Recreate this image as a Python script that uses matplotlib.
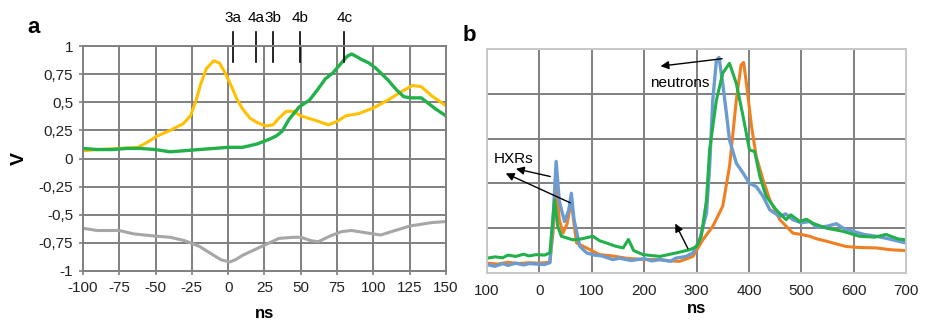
import numpy as np
import matplotlib.pyplot as plt

plt.rcParams['font.family'] = ['Liberation Sans', 'DejaVu Sans']
plt.rcParams['axes.unicode_minus'] = False

# ---- panel a data (ns, V) ----
a_orange_x = [-100, -90, -75, -62, -55, -49, -40, -31, -26, -22, -19, -15, -10, -6, -2, 2, 6, 10, 15, 20, 26, 31, 35, 40, 45, 50, 60, 69, 75, 81, 90, 100, 110, 120, 127, 133, 140, 150]
a_orange_y = [0.07, 0.08, 0.09, 0.10, 0.15, 0.20, 0.25, 0.31, 0.38, 0.52, 0.66, 0.80, 0.87, 0.85, 0.76, 0.65, 0.53, 0.44, 0.36, 0.32, 0.29, 0.30, 0.36, 0.42, 0.42, 0.38, 0.34, 0.30, 0.33, 0.38, 0.40, 0.45, 0.52, 0.60, 0.65, 0.64, 0.56, 0.47]

a_green_x = [-100, -90, -80, -70, -60, -50, -40, -30, -20, -10, 0, 10, 20, 28, 33, 37, 42, 49, 56, 62, 67, 72, 78, 82, 85, 88, 92, 97, 102, 110, 116, 121, 126, 133, 138, 143, 150]
a_green_y = [0.09, 0.08, 0.08, 0.09, 0.09, 0.08, 0.06, 0.07, 0.08, 0.09, 0.10, 0.10, 0.13, 0.17, 0.20, 0.24, 0.35, 0.46, 0.52, 0.62, 0.71, 0.76, 0.85, 0.91, 0.93, 0.91, 0.88, 0.85, 0.80, 0.70, 0.61, 0.55, 0.54, 0.54, 0.49, 0.44, 0.38]

a_gray_x = [-100, -90, -75, -65, -50, -40, -30, -20, -10, -5, 1, 5, 10, 20, 30, 35, 45, 50, 57, 62, 70, 78, 85, 95, 105, 115, 125, 140, 150]
a_gray_y = [-0.62, -0.64, -0.64, -0.67, -0.69, -0.70, -0.73, -0.78, -0.86, -0.90, -0.92, -0.90, -0.86, -0.80, -0.74, -0.71, -0.70, -0.70, -0.73, -0.74, -0.69, -0.65, -0.64, -0.66, -0.68, -0.64, -0.60, -0.57, -0.56]

a_xticks = [-100, -75, -50, -25, 0, 25, 50, 75, 100, 125, 150]
a_yticks = [-1, -0.75, -0.5, -0.25, 0, 0.25, 0.5, 0.75, 1]
a_yticklabels = ['-1', '-0,75', '-0,5', '-0,25', '0', '0,25', '0,5', '0,75', '1']

marker_pos = [3.5, 19, 31, 49.5, 80]
marker_lbl = ['3a', '4a', '3b', '4b', '4c']

# ---- panel b data (ns, arb.) ----
b_blue_x = [-100, -85, -70, -60, -45, -30, -20, -5, 10, 20, 26, 32, 38, 48, 56, 61, 66, 77, 90, 105, 120, 140, 153, 175, 200, 215, 230, 250, 260, 280, 293, 306, 319, 325, 331, 338, 343, 350, 357, 363, 376, 389, 401, 414, 427, 440, 459, 470, 484, 500, 516, 530, 548, 567, 580, 599, 620, 643, 660, 675, 700]
b_blue_y = [0.19, 0.15, 0.21, 0.17, 0.22, 0.18, 0.21, 0.20, 0.19, 0.23, 1.2, 2.49, 1.6, 1.15, 1.4, 1.78, 1.2, 0.60, 0.45, 0.40, 0.38, 0.30, 0.33, 0.28, 0.32, 0.27, 0.30, 0.26, 0.33, 0.37, 0.45, 0.74, 1.34, 2.38, 3.86, 4.75, 4.81, 4.23, 3.57, 2.97, 2.45, 2.23, 2.00, 1.93, 1.71, 1.41, 1.26, 1.32, 1.19, 1.12, 1.15, 1.02, 1.04, 1.10, 1.00, 0.93, 0.86, 0.82, 0.78, 0.74, 0.67]

b_orange_x = [-100, -80, -60, -40, -20, 0, 20, 26, 32, 38, 45, 53, 61, 66, 71, 90, 115, 140, 166, 200, 230, 250, 268, 293, 312, 331, 350, 363, 376, 385, 390, 396, 405, 414, 427, 440, 459, 484, 500, 516, 530, 548, 570, 586, 610, 643, 670, 700]
b_orange_y = [0.22, 0.20, 0.24, 0.21, 0.23, 0.22, 0.24, 0.9, 1.97, 1.2, 0.89, 1.1, 1.63, 1.1, 0.67, 0.56, 0.41, 0.38, 0.33, 0.30, 0.30, 0.27, 0.26, 0.37, 0.74, 1.04, 1.49, 2.38, 3.86, 4.64, 4.70, 4.16, 3.27, 2.60, 2.08, 1.63, 1.19, 0.89, 0.86, 0.82, 0.76, 0.71, 0.64, 0.59, 0.57, 0.56, 0.52, 0.50]

b_green_x = [-100, -85, -70, -60, -45, -30, -20, -6, 10, 20, 29, 35, 42, 64, 80, 102, 115, 128, 145, 160, 170, 180, 198, 230, 262, 287, 300, 309, 319, 325, 338, 350, 363, 376, 389, 401, 411, 421, 433, 452, 471, 480, 497, 510, 522, 548, 580, 611, 640, 662, 685, 700]
b_green_y = [0.33, 0.36, 0.34, 0.40, 0.37, 0.42, 0.38, 0.41, 0.40, 0.45, 1.63, 1.04, 0.82, 0.74, 0.76, 0.82, 0.72, 0.67, 0.60, 0.56, 0.75, 0.50, 0.41, 0.37, 0.45, 0.52, 0.59, 0.82, 1.63, 2.75, 3.86, 4.46, 4.68, 4.23, 3.49, 2.75, 2.71, 2.15, 1.71, 1.41, 1.19, 1.30, 1.15, 1.20, 1.11, 1.00, 0.93, 0.82, 0.80, 0.86, 0.76, 0.74]

b_xticks = [-100, 0, 100, 200, 300, 400, 500, 600, 700]
b_xticklabels = ['100', '0', '100', '200', '300', '400', '500', '600', '700']

GRID = '#808080'
fig = plt.figure(figsize=(9.25, 3.24), dpi=100)

# ---------------- panel a ----------------
ax = fig.add_axes([0.0897, 0.1636, 0.3924, 0.694])
ax.plot(a_orange_x, a_orange_y, color='#FFC000', lw=2.2)
ax.plot(a_green_x, a_green_y, color='#22B04A', lw=2.4)
ax.plot(a_gray_x, a_gray_y, color='#A6A6A6', lw=2.2)
ax.set_xlim(-100, 150)
ax.set_ylim(-1, 1)
ax.set_xticks(a_xticks)
ax.set_yticks(a_yticks)
ax.set_yticklabels(a_yticklabels)
ax.grid(True, color=GRID, lw=1.4)
ax.set_axisbelow(True)
for s in ax.spines.values():
    s.set_color(GRID)
    s.set_linewidth(1.4)
ax.tick_params(labelsize=11, colors='#222222', length=3, color=GRID, width=1.2, pad=4)
ax.set_xlabel('ns', fontsize=12, fontweight='bold', labelpad=8)
ax.set_ylabel('V', fontsize=14, fontweight='bold', labelpad=8)
for xm, lb in zip(marker_pos, marker_lbl):
    ax.plot([xm, xm], [0.86, 1.125], color='black', lw=1.2, clip_on=False)
    ax.text(xm, 1.19, lb, ha='center', va='bottom', fontsize=11)
fig.text(0.03, 0.898, 'a', fontsize=16, fontweight='bold')

# ---------------- panel b ----------------
bx = fig.add_axes([0.5265, 0.1574, 0.453, 0.6914])
bx.plot(b_orange_x, b_orange_y, color='#F07F22', lw=2.2)
bx.plot(b_blue_x, b_blue_y, color='#6A9BD1', lw=2.4)
bx.plot(b_green_x, b_green_y, color='#22B04A', lw=2.2)
bx.set_xlim(-100, 700)
bx.set_ylim(0, 5)
bx.set_xticks(b_xticks)
bx.set_xticklabels(b_xticklabels)
bx.set_yticks([0, 1, 2, 3, 4, 5])
bx.set_yticklabels([])
bx.grid(True, color=GRID, lw=1.4)
bx.set_axisbelow(True)
for s in bx.spines.values():
    s.set_color('#C8C8C8')
    s.set_linewidth(1.4)
bx.tick_params(labelsize=11, colors='#222222', length=0, pad=8)
bx.set_xlabel('ns', fontsize=12, fontweight='bold', labelpad=2)

arrow = dict(arrowstyle='-|>', color='black', lw=1.0, mutation_scale=12)
bx.annotate('', xy=(226, 4.61), xytext=(354, 4.79), arrowprops=arrow)
bx.text(211, 4.25, 'neutrons', fontsize=11, va='center')
bx.annotate('', xy=(-50, 2.34), xytext=(26, 2.14), arrowprops=arrow)
bx.annotate('', xy=(-69, 2.25), xytext=(64, 1.54), arrowprops=arrow)
bx.text(-88, 2.54, 'HXRs', fontsize=11, va='center')
bx.annotate('', xy=(257, 1.16), xytext=(286, 0.49), arrowprops=arrow)
fig.text(0.5005, 0.873, 'b', fontsize=16, fontweight='bold')

fig.savefig('out.png', dpi=100)
